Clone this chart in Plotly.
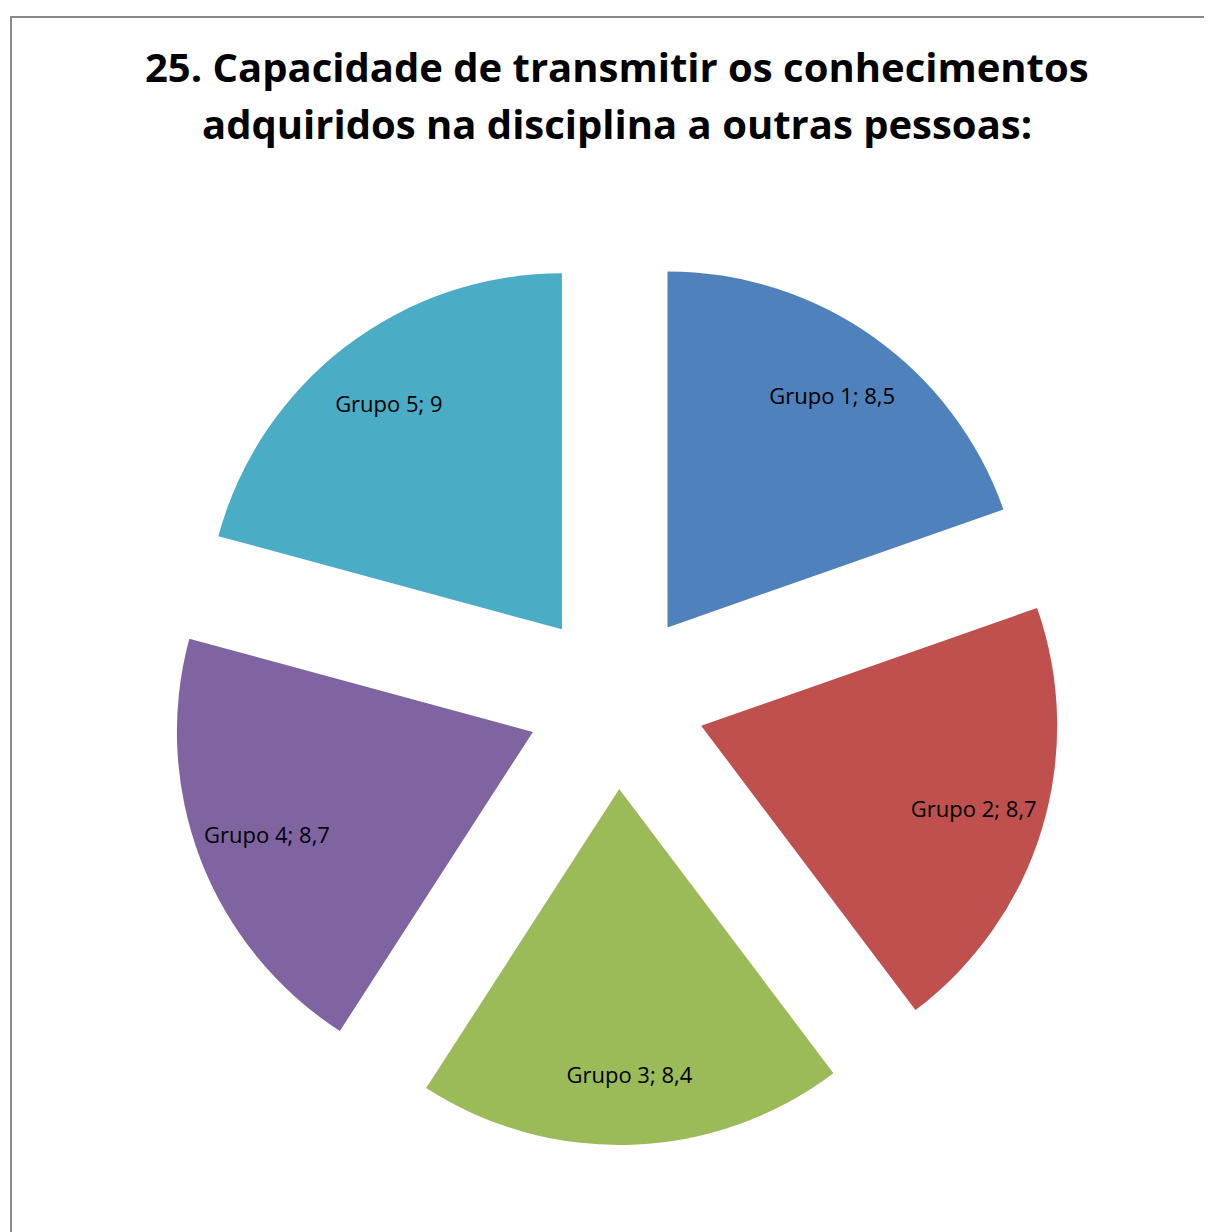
import plotly.graph_objects as go

labels = ["Grupo 1", "Grupo 2", "Grupo 3", "Grupo 4", "Grupo 5"]
values = [8.5, 8.7, 8.4, 8.7, 9]
colors = ["#4F81BD", "#C0504D", "#9BBB59", "#8064A2", "#4BACC6"]
title_lines = ["25. Capacidade de transmitir os conhecimentos",
               "adquiridos na disciplina a outras pessoas:"]

W, H = 1212, 1232
cx, cy = 608, 692
half = 445
dom = dict(x=[(cx - half) / W, (cx + half) / W],
           y=[(H - cy - half) / H, (H - cy + half) / H])
pulls = [0.25] * len(values)

# coloured slices
fig = go.Figure(go.Pie(
    labels=labels, values=values, sort=False, direction="clockwise",
    rotation=0, pull=pulls,
    marker=dict(colors=colors, line=dict(width=0)),
    textinfo="none", hoverinfo="label+value", showlegend=False,
    domain=dom,
))
# label layer (transparent ring so labels sit further out like the original)
fig.add_trace(go.Pie(
    labels=labels, values=values, sort=False, direction="clockwise",
    rotation=0, pull=pulls, hole=0.6,
    marker=dict(colors=["rgba(0,0,0,0)"] * len(values), line=dict(width=0)),
    texttemplate="%{label}; %{value}",
    textposition="inside", insidetextorientation="horizontal",
    textfont=dict(family="Open Sans", size=22, color="black"),
    hoverinfo="skip", showlegend=False,
    domain=dom,
))

fig.update_layout(
    width=W, height=H,
    margin=dict(l=0, r=0, t=0, b=0),
    paper_bgcolor="white",
    separators=",.",
    annotations=[
        dict(text=title_lines[0], xref="paper", yref="paper",
             x=609 / W, y=1 - 59 / H, xanchor="center", yanchor="middle",
             showarrow=False,
             font=dict(family="Open Sans", size=40, color="black", weight="bold")),
        dict(text=title_lines[1], xref="paper", yref="paper",
             x=609 / W, y=1 - 116 / H, xanchor="center", yanchor="middle",
             showarrow=False,
             font=dict(family="Open Sans", size=40, color="black", weight="bold")),
    ],
    shapes=[dict(type="rect", xref="paper", yref="paper",
                 x0=3 / W, x1=1.05, y0=-0.05, y1=1 - 9 / H,
                 line=dict(color="#898989", width=2))],
)

fig.write_html("out.html")
